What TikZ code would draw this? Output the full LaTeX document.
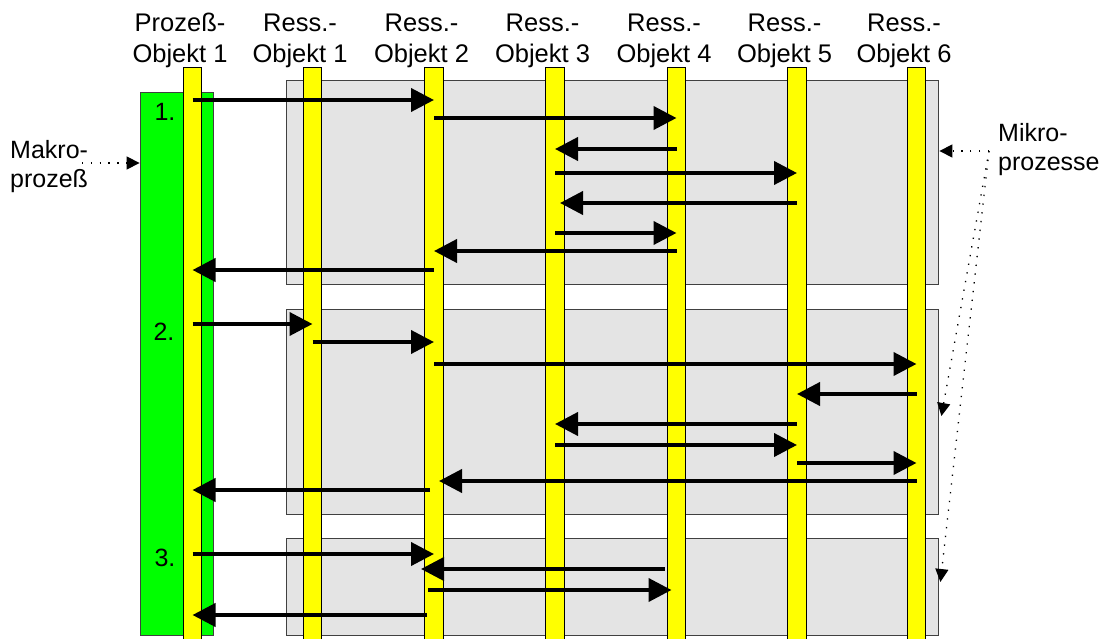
\documentclass[tikz,border=0pt]{standalone}
\usepackage{fontspec}
\setmainfont{Liberation Sans}
\usetikzlibrary{arrows.meta,calc}
\definecolor{boxgray}{RGB}{228,228,228}
\definecolor{edgegray}{RGB}{64,64,64}
\definecolor{baryellow}{RGB}{255,255,0}
\definecolor{makrogreen}{RGB}{0,255,0}
\begin{document}
\begin{tikzpicture}[x=1pt,y=-1pt,
  lbl/.style={font=\fontsize{25.5}{31}\selectfont, align=center, anchor=base, inner sep=0pt},
  side/.style={font=\fontsize{25}{29.5}\selectfont, align=left, anchor=base west, inner sep=0pt},
  num/.style={font=\fontsize{25}{29}\selectfont, inner sep=0pt},
  bar/.style={draw=black, line width=0.8pt, fill=baryellow, minimum width=18.5pt, minimum height=580pt, inner sep=0pt, anchor=north},
  phase/.style={draw=edgegray, line width=0.8pt, fill=boxgray, inner sep=0pt},
  makro/.style={draw=edgegray, line width=0.8pt, fill=makrogreen, inner sep=0pt},
  msg/.style={line width=4pt, -{Triangle[length=23pt,width=23pt]}},
  hint/.style={line width=1.3pt, dash pattern=on 1.3pt off 7.5pt, -{Triangle[length=13pt,width=13pt]}}
]
\useasboundingbox (0,0) rectangle (1103,639);

% macro process (green) and micro processes (gray)
\node[makro, minimum width=73.5pt, minimum height=543pt] (mg) at (176.75,363.5) {};
\node[phase, minimum width=652pt, minimum height=204pt] (p1) at (612,182) {};
\node[phase, minimum width=652pt, minimum height=205pt] (p2) at (612,411.5) {};
\node[phase, minimum width=652pt, minimum height=97pt] (p3) at (612,586.5) {};

% object life lines
\node[bar] (b1) at (192.5,67) {};
\node[bar] (b2) at (312.5,67) {};
\node[bar] (b3) at (434,67) {};
\node[bar] (b4) at (555,67) {};
\node[bar] (b5) at (676.5,67) {};
\node[bar] (b6) at (797,67) {};
\node[bar] (b7) at (916.5,67) {};

% headers (anchor = baseline of the last line)
\node[lbl] (h1) at (180,63) {Prozeß-\\Objekt 1};
\node[lbl] (h2) at (300,63) {Ress.-\\Objekt 1};
\node[lbl] (h3) at (421.5,63) {Ress.-\\Objekt 2};
\node[lbl] (h4) at (542.5,63) {Ress.-\\Objekt 3};
\node[lbl] (h5) at (664,63) {Ress.-\\Objekt 4};
\node[lbl] (h6) at (784.5,63) {Ress.-\\Objekt 5};
\node[lbl] (h7) at (904,63) {Ress.-\\Objekt 6};

% numbers
\node[num] (n1) at (165,112) {1.};
\node[num] (n2) at (164,332) {2.};
\node[num] (n3) at (165,558) {3.};

% side labels
\node[side] (mak) at (10,188) {Makro-\\prozeß};
\node[side] (mik) at (998,171) {Mikro-\\prozesse};

% micro process 1
\draw[msg] (b1 |- 0,100) -- (b3 |- 0,100);
\draw[msg] (b3 |- 0,118) -- (b5 |- 0,118);
\draw[msg] (b5 |- 0,149) -- (b4 |- 0,149);
\draw[msg] (b4 |- 0,173) -- (b6 |- 0,173);
\draw[msg] (b6 |- 0,203) -- ($(b4 |- 0,203)+(5,0)$);
\draw[msg] (b4 |- 0,233) -- (b5 |- 0,233);
\draw[msg] (b5 |- 0,251) -- (b3 |- 0,251);
\draw[msg] (b3 |- 0,270) -- (b1 |- 0,270);

% micro process 2
\draw[msg] (b1 |- 0,324) -- (b2 |- 0,324);
\draw[msg] (b2 |- 0,342) -- (b3 |- 0,342);
\draw[msg] (b3 |- 0,364) -- (b7 |- 0,364);
\draw[msg] (b7 |- 0,394) -- (b6 |- 0,394);
\draw[msg] (b6 |- 0,424) -- (b4 |- 0,424);
\draw[msg] (b4 |- 0,445) -- (b6 |- 0,445);
\draw[msg] (b6 |- 0,463) -- (b7 |- 0,463);
\draw[msg] (b7 |- 0,481) -- ($(b3 |- 0,481)+(5,0)$);
\draw[msg] ($(b3 |- 0,490)+(-4,0)$) -- (b1 |- 0,490);

% micro process 3
\draw[msg] (b1 |- 0,554) -- (b3 |- 0,554);
\draw[msg] ($(b5 |- 0,569)+(-12,0)$) -- ($(b3 |- 0,569)+(-13,0)$);
\draw[msg] ($(b3 |- 0,590)+(-6,0)$) -- ($(b5 |- 0,590)+(-5,0)$);
\draw[msg] ($(b3 |- 0,615)+(-7,0)$) -- (b1 |- 0,615);

% hints
\coordinate (mkstart) at (82,163);
\draw[hint] (mkstart) -- (mg.west |- mkstart);
\coordinate (mistart) at (989,151);
\draw[hint] (mistart) -- ($(p1.east |- mistart)+(1,0)$);
\draw[hint] (mistart) -- ($(p2.east |- 0,416)+(3,0)$);
\draw[hint] (mistart) -- ($(p3.east |- 0,582)+(2,0)$);
\end{tikzpicture}
\end{document}
